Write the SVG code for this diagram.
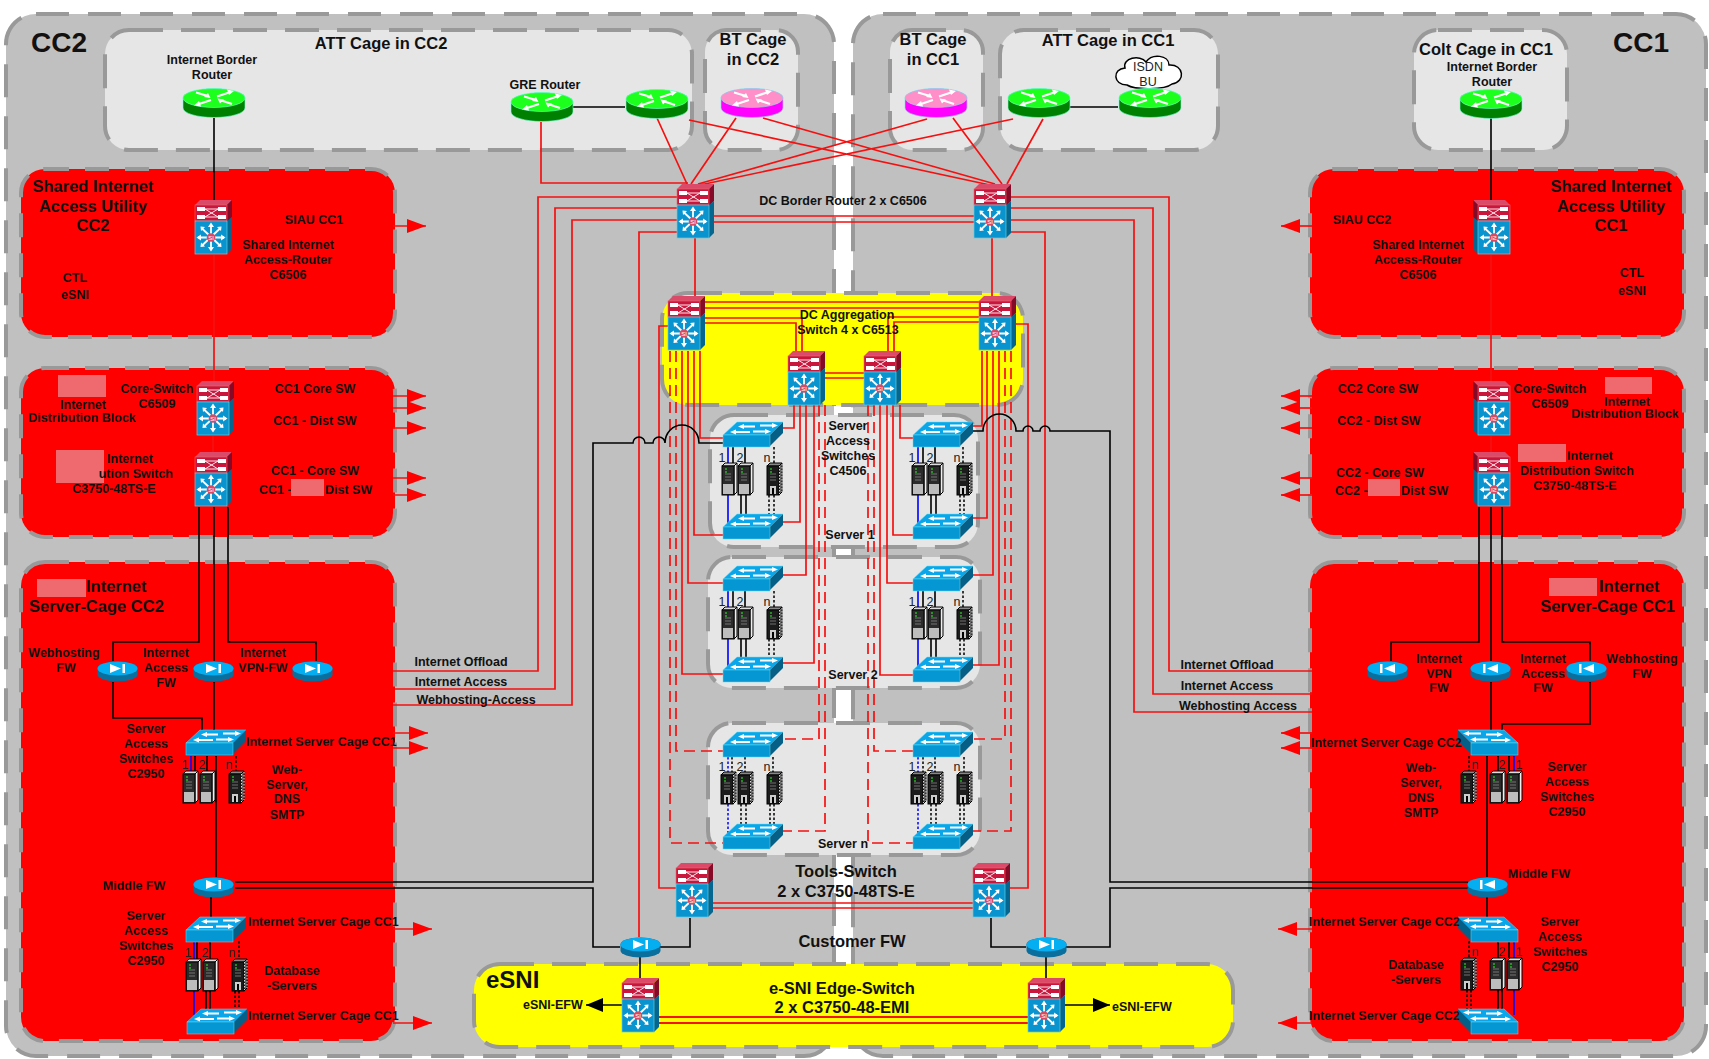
<svg xmlns="http://www.w3.org/2000/svg" width="1709" height="1059" viewBox="0 0 1709 1059">
<style>
text{font-family:"Liberation Sans",Arial,sans-serif;font-weight:700;font-size:12.5px;fill:#111;text-anchor:middle;transform:translateY(1px)}
.st{text-anchor:start}.en{text-anchor:end}
.h{font-size:16.5px;transform:none}.c{font-size:16.5px;transform:none}.big{font-size:28px;text-anchor:start;transform:none}
.reg{font-weight:400;fill:#222;font-size:12.5px}
.pg{fill:#c0c0c0;stroke:#999;stroke-width:4;stroke-dasharray:33 19}
.pl{fill:#e6e6e6;stroke:#999;stroke-width:4;stroke-dasharray:34 18}
.pr{fill:#f00;stroke:#999;stroke-width:4;stroke-dasharray:24 16}
.py{fill:#ff0;stroke:#999;stroke-width:4;stroke-dasharray:34 18}
.mask{fill:#ee6a6e}
path.r{fill:none;stroke:#f51010;stroke-width:1.7}
path.rd{fill:none;stroke:#f51010;stroke-width:1.7;stroke-dasharray:11 6}
path.k{fill:none;stroke:#000;stroke-width:1.6}
path.kd{fill:none;stroke:#000;stroke-width:1.5;stroke-dasharray:2.5 2}
path.b{fill:none;stroke:#00f;stroke-width:1.6}
path.bd{fill:none;stroke:#00f;stroke-width:1.5;stroke-dasharray:2.5 2}
path.a{fill:none;stroke:#f51010;stroke-width:1.7;marker-end:url(#ah)}
.w{fill:#fff}.wl{stroke:#fff;fill:none}
</style>
<defs>
<marker id="ah" markerUnits="userSpaceOnUse" markerWidth="20" markerHeight="14" refX="19" refY="7" orient="auto"><path d="M0,0 19,7 0,14z" fill="#f00"/></marker>
<marker id="akh" markerUnits="userSpaceOnUse" markerWidth="18" markerHeight="14" refX="17" refY="7" orient="auto"><path d="M0,0 17,7 0,14z" fill="#000"/></marker>
<g id="rarrows">
<path class="wl" stroke-width="2.2" d="M35,8.500 47,4.500M29,12 17,16M26,8 14,4.500M38,12 50,16"/>
<path class="w" d="M52,3 45,1.500 47,7zM12,17.500 19,18.500 17,13zM28.500,10 26,5 22,9zM35.500,10.500 38,15.500 42,11.500z"/>
</g>
<g id="rg"><path d="M1,10A31,9.500 0 0 1 63,10V20A31,9.500 0 0 1 1,20Z" fill="#008000" stroke="#7fd" stroke-width=".6"/><ellipse cx="32" cy="10" rx="31" ry="9.500" fill="#1dff1d" stroke="#7fd" stroke-width=".6"/><use href="#rarrows"/></g>
<g id="rm"><path d="M1,10A31,9.500 0 0 1 63,10V20A31,9.500 0 0 1 1,20Z" fill="#f0f" stroke="#8de" stroke-width=".6"/><ellipse cx="32" cy="10" rx="31" ry="9.500" fill="#ff8fc8" stroke="#8de" stroke-width=".6"/><use href="#rarrows"/></g>
<g id="fw"><path d="M.5,7.500A20,7 0 0 1 40.500,7.500V13.500A20,7 0 0 1 .5,13.500Z" fill="#0a6f9c"/><ellipse cx="20.500" cy="7.500" rx="20" ry="7" fill="#05aef0"/><path class="w" d="M13,3 24,7.500 13,12zM25.500,3h2.500v9h-2.500z"/></g>
<g id="sw">
<path d="M0,13 14,0H60L47,13Z" fill="#0ba6ea" stroke="#6de" stroke-width=".5"/>
<path d="M47,13 60,0V11L47,24Z" fill="#055f86"/>
<rect y="13" width="47" height="12" fill="#0596d4" stroke="#6de" stroke-width=".5"/>
<path class="wl" stroke-width="1.8" d="M20,4.500H32M37,3.500H51M12,10H27M30,9.500H44"/>
<path class="w" d="M15,4.500 21,2 21,7zM55,3.500 49,1 49,6zM7,10 13,7.500 13,12.500zM48,9.500 42,7 42,12z"/>
</g>
<g id="l3">
<path d="M0,5 5,0H37L32,5Z" fill="#dc4a6a"/>
<path d="M32,5 37,0V17L32,22Z" fill="#850a28"/>
<rect y="5" width="32" height="16" fill="#c8163c" stroke="#e66" stroke-width=".6"/>
<path class="w" d="M2,7h8v4H2zM23,7h8v4h-8zM2,15h8v4H2zM23,15h8v4h-8z"/>
<path d="M10,9H23M10,17H23M10,9 23,17M10,17 23,9" stroke="#fff" stroke-width=".9" fill="none"/>
<path d="M32,21 37,17V49L32,54Z" fill="#05678f"/>
<rect y="21" width="32" height="33" fill="#0a94cf" stroke="#6cd" stroke-width=".7"/>
<path d="M16,24V50M3,37.500H29M7,28.500 25,45.500M25,28.500 7,45.500" stroke="#fff" stroke-width="1.8" fill="none"/>
<path class="w" d="M16,22.500 13,27H19zM16,51.500 13,47H19zM1.500,37.500 6,34.500V40.500zM30.500,37.500 26,34.500V40.500zM5.500,26.500 6,31 10,27zM26.500,26.500 26,31 22,27zM5.500,47 6,42.500 10,46.500zM26.500,47 26,42.500 22,46.500z"/>
<circle cx="16" cy="37.500" r="4.300" fill="#d84a62"/>
<text x="16" y="39.500" style="font-size:6px;fill:#fff;font-weight:400;transform:none">SI</text>
</g>
<g id="sv">
<path d="M0,3 3,0H15L12,3Z" fill="#ddd" stroke="#000" stroke-width="1"/>
<path d="M12,3 15,0V29L12,32Z" fill="#eee" stroke="#000" stroke-width="1"/>
<rect y="3" width="12" height="29" fill="#2b2b2b" stroke="#000" stroke-width="1"/>
<rect x="1" y="21" width="10" height="10" fill="#bdbdbd"/>
<path d="M3,11h6M3,14h6M3,17h6" stroke="#888" stroke-width=".8"/>
<path d="M3,6h2M3,9h2" stroke="#2f2" stroke-width="1"/>
</g>
<g id="svd">
<path d="M0,3 3,0H15L12,3Z" fill="#888" stroke="#000" stroke-width="1"/>
<path d="M12,3 15,0V29L12,32Z" fill="#666" stroke="#000" stroke-width="1"/>
<rect y="3" width="12" height="29" fill="#1c1c1c" stroke="#000" stroke-width="1"/>
<path d="M12.500,3V31M15,1V29" stroke="#ddd" stroke-width="1" stroke-dasharray="1.500 1.500"/>
<rect x="3" y="23" width="6" height="8" fill="#ccc"/><rect x="5" y="25" width="2" height="6" fill="#000"/>
<path d="M3,11h6M3,14h6M3,17h6" stroke="#888" stroke-width=".8"/>
<path d="M3,6h2M3,9h2" stroke="#2f2" stroke-width="1"/>
</g>
</defs>

<g id="panel-cc2"><rect class="pg" x="6" y="14" width="828" height="1042" rx="30"/></g>
<g id="panel-cc1"><rect class="pg" x="853" y="14" width="853" height="1042" rx="30"/></g>
<g id="panel-att-cc2"><rect class="pl" x="105" y="30" width="587" height="120" rx="24"/></g>
<g id="panel-bt-cc2"><rect class="pl" x="705" y="30" width="93" height="120" rx="22"/></g>
<g id="panel-bt-cc1"><rect class="pl" x="890" y="30" width="93" height="120" rx="22"/></g>
<g id="panel-att-cc1"><rect class="pl" x="1000" y="30" width="218" height="120" rx="24"/></g>
<g id="panel-colt"><rect class="pl" x="1414" y="30" width="153" height="120" rx="24"/></g>
<g id="panel-siau-cc2"><rect class="pr" x="21" y="169" width="374" height="168" rx="24"/></g>
<g id="panel-siau-cc1"><rect class="pr" x="1310" y="169" width="374" height="168" rx="24"/></g>
<g id="panel-dist-cc2"><rect class="pr" x="21" y="368" width="374" height="169" rx="24"/></g>
<g id="panel-dist-cc1"><rect class="pr" x="1310" y="368" width="374" height="169" rx="24"/></g>
<g id="panel-cage-cc2"><rect class="pr" x="21" y="562" width="374" height="479" rx="24"/></g>
<g id="panel-cage-cc1"><rect class="pr" x="1310" y="562" width="374" height="479" rx="24"/></g>
<g id="panel-agg"><rect class="py" x="662" y="293" width="361" height="112" rx="26"/></g>
<g id="panel-server1"><rect class="pl" x="710" y="415" width="268" height="132" rx="24"/></g>
<g id="panel-server2"><rect class="pl" x="708" y="557" width="272" height="131" rx="24"/></g>
<g id="panel-servern"><rect class="pl" x="708" y="723" width="272" height="132" rx="24"/></g>
<g id="panel-esni"><rect class="py" x="474" y="964" width="759" height="83" rx="26"/></g>

<g id="connectors">
<path class="r" d="M541,122V183H688"/>
<path class="r" d="M657,118 687,184M736,118 691,184M927,119 698,184M1013,119 700,185M763,118 995,184M689,120 990,185M953,118 1002,184M1043,119 1007,184"/>
<path class="k" d="M573,107H625M1067,107H1118"/>
<path class="k" d="M214,118V200M1491,118V200"/>
<path class="r" d="M713,216H974M713,222H974"/>
<path class="r" d="M677,197H538V671H393M677,208H555V689H395M677,220H572V705H393M677,232H639V937"/>
<path class="r" d="M1010,197H1169V671H1312M1010,208H1153V694H1312M1010,220H1134V712H1312M1010,232H1045V937"/>
<path class="r" d="M695,238V296M992,238V296"/>
<path class="r" d="M705,302H979M705,308H979M705,318H802V351M705,323H796V351M979,317H888V351M979,322H894V351M825,373H864M825,378H864"/>
<path class="r" d="M668,326H659V888H676M1016,324H1028V888H1010"/>
<path class="r" d="M700,351V438H723M694,351V535H723M688,351V583H723M682,351V674H723"/>
<path class="rd" d="M670,351V843H723M676,351V751H723"/>
<path class="r" d="M794,405V428H783M800,405V522H783M806,405V575H783M814,405V663H783"/>
<path class="rd" d="M819,405V739H783M825,405V831H783"/>
<path class="r" d="M900,405V438H913M893,405V535H913M887,405V583H913M880,405V675H913"/>
<path class="rd" d="M868,405V843H913M874,405V751H913"/>
<path class="r" d="M982,351V426H973M987,351V518H973M993,351V575H973M999,351V665H973"/>
<path class="rd" d="M1005,351V739H973M1011,351V831H973"/>
<path class="k" d="M235,882H593V443H633A6,6 0 0 1 645,443H653A6,6 0 0 1 665,443A17,18 0 0 1 699,443L702,443H723"/>
<path class="k" d="M235,888H593V947H620"/>
<path class="k" d="M973,431H983A16.500,17 0 0 1 1016,431H1023A5,5 0 0 1 1033,431H1040A5,5 0 0 1 1050,431H1110V882H1468"/>
<path class="k" d="M1470,888H1110V947H1066"/>
<path class="k" d="M660,947H690V918M1026,947H991V918M640,957V978M1046,957V978"/>
<path class="r" d="M713,903H973M713,908H973"/>
<path class="r" d="M659,1017H1028M659,1023H1028" style="stroke-width:2;stroke:#f01800"/>
<path class="k" d="M622,1005H586" style="marker-end:url(#akh)"/>
<path class="k" d="M1065,1005H1110" style="marker-end:url(#akh)"/>
<path class="r" d="M214,255V381M213,436V452M1491,255V381M1491,436V452"/>
<path class="k" d="M199,507V642H113V661M214,507V661M228,507V642H316V661"/>
<path class="k" d="M113,682V718H202V730M214,682V737M216,756V877M211,897V917"/>
<path class="k" d="M1479,507V642H1391V661M1491,507V661M1502,507V642H1590V661"/>
<path class="k" d="M1590,682V724H1502V730M1491,682V735M1487,756V877M1487,897V917"/>
<path class="a" d="M393,226H426"/><path class="a" d="M393,396H426"/><path class="a" d="M393,408H426"/><path class="a" d="M393,428H426"/><path class="a" d="M393,478H426"/><path class="a" d="M393,495H426"/><path class="a" d="M393,733H428"/><path class="a" d="M393,748H428"/><path class="a" d="M393,929H432"/><path class="a" d="M393,1023H432"/>
<path class="a" d="M1312,226H1281"/><path class="a" d="M1312,396H1281"/><path class="a" d="M1312,408H1281"/><path class="a" d="M1312,428H1281"/><path class="a" d="M1312,478H1281"/><path class="a" d="M1312,495H1281"/><path class="a" d="M1312,733H1281"/><path class="a" d="M1312,748H1281"/><path class="a" d="M1312,929H1278"/><path class="a" d="M1312,1023H1278"/>
<path class="b" d="M191,756V771M194,941V959M194,990V1015M1514,756V771M1514,941V958M1514,990V1015"/>
<path class="k" d="M195,756V771M207,756V771M197,941V959M210,941V959M206,990V1015M210,990V1015M1498,756V771M1509,756V771M1498,941V958M1509,941V958M1498,990V1015M1502,990V1015"/>
<path class="kd" d="M236,756V771M239,941V959M235,991V1012M239,991V1012M1469,756V771M1469,941V958M1467,990V1012M1471,990V1012"/>
<path class="b" d="M728,447V463M728,495V527M918,447V463M918,495V527M728,591V607M728,639V670M918,591V607M918,639V670"/>
<path class="k" d="M733,447V463M745,447V463M741,495V520M746,495V520M923,447V463M935,447V463M931,495V520M936,495V520M733,591V607M745,591V607M741,639V663M746,639V663M923,591V607M935,591V607M931,639V663M936,639V663"/>
<path class="kd" d="M774,447V463M769,495V518M774,495V518M963,447V463M960,495V518M964,495V518M774,591V607M769,639V660M774,639V660M963,591V607M960,639V660M964,639V660"/>
<path class="bd" d="M728,757V772M728,804V836M918,757V772M918,804V836"/>
<path class="kd" d="M732,757V772M745,757V772M773,757V772M741,804V828M746,804V828M770,804V828M774,804V828M923,757V772M935,757V772M964,757V772M931,804V828M936,804V828M960,804V828M964,804V828"/>
</g>

<g id="cloud-isdn"><path d="M1127,85C1113,85 1112,69 1125,68C1122,58 1140,54 1146,62C1152,53 1169,55 1169,65C1184,64 1186,82 1172,84C1165,90 1135,90 1127,85Z" fill="#fff" stroke="#000" stroke-width="1.5"/><text class="reg" x="1148" y="70">ISDN</text><text class="reg" x="1148" y="85">BU</text></g>

<g id="r-border-cc2"><use href="#rg" x="182" y="88"/><text x="212" y="63">Internet Border</text><text x="212" y="78">Router</text></g>
<g id="r-gre"><use href="#rg" x="510" y="92"/><text x="545" y="88">GRE Router</text></g>
<g id="r-att-cc2"><use href="#rg" x="625" y="89"/></g>
<g id="r-bt-cc2"><use href="#rm" x="720" y="88"/></g>
<g id="r-bt-cc1"><use href="#rm" x="904" y="88"/></g>
<g id="r-att-cc1"><use href="#rg" x="1007" y="88"/></g>
<g id="r-isdn"><use href="#rg" x="1118" y="88"/></g>
<g id="r-colt"><use href="#rg" x="1459" y="89"/><text x="1492" y="70">Internet Border</text><text x="1492" y="85">Router</text></g>

<g id="sw-border-l"><use href="#l3" x="677" y="184"/></g>
<g id="sw-border-r"><use href="#l3" x="974" y="184"/></g>
<g id="sw-agg-1"><use href="#l3" x="668" y="296"/></g>
<g id="sw-agg-2"><use href="#l3" x="788" y="351"/></g>
<g id="sw-agg-3"><use href="#l3" x="864" y="351"/></g>
<g id="sw-agg-4"><use href="#l3" x="979" y="296"/></g>
<g id="sw-siau-cc2"><use href="#l3" x="195" y="200"/></g>
<g id="sw-core-cc2"><use href="#l3" x="197" y="381"/></g>
<g id="sw-dist-cc2"><use href="#l3" x="195" y="452"/></g>
<g id="sw-siau-cc1"><use href="#l3" transform="translate(1510,200) scale(-1,1)"/></g>
<g id="sw-core-cc1"><use href="#l3" transform="translate(1510,381) scale(-1,1)"/></g>
<g id="sw-dist-cc1"><use href="#l3" transform="translate(1510,452) scale(-1,1)"/></g>
<g id="sw-tools-l"><use href="#l3" x="676" y="863"/></g>
<g id="sw-tools-r"><use href="#l3" x="973" y="863"/></g>
<g id="sw-esni-l"><use href="#l3" x="622" y="978"/></g>
<g id="sw-esni-r"><use href="#l3" x="1028" y="978"/></g>

<g id="fw-web-cc2"><use href="#fw" x="97" y="661"/></g>
<g id="fw-acc-cc2"><use href="#fw" x="193" y="661"/></g>
<g id="fw-vpn-cc2"><use href="#fw" x="292" y="661"/></g>
<g id="fw-mid-cc2"><use href="#fw" x="193" y="877"/></g>
<g id="fw-cust-l"><use href="#fw" x="620" y="937"/></g>
<g id="fw-cust-r"><use href="#fw" x="1026" y="937"/></g>
<g id="fw-vpn-cc1"><use href="#fw" transform="translate(1408,661) scale(-1,1)"/></g>
<g id="fw-acc-cc1"><use href="#fw" transform="translate(1511,661) scale(-1,1)"/></g>
<g id="fw-web-cc1"><use href="#fw" transform="translate(1607,661) scale(-1,1)"/></g>
<g id="fw-mid-cc1"><use href="#fw" transform="translate(1508,877) scale(-1,1)"/></g>

<g id="as-s1"><use href="#sw" x="723" y="422"/><use href="#sw" x="723" y="514"/><use href="#sw" x="913" y="422"/><use href="#sw" x="913" y="514"/>
<use href="#sv" x="722" y="463"/><use href="#sv" x="738" y="463"/><use href="#svd" x="767" y="463"/><use href="#sv" x="912" y="463"/><use href="#sv" x="928" y="463"/><use href="#svd" x="957" y="463"/>
<text class="reg" x="722" y="461">1</text><text class="reg" x="740" y="461">2</text><text class="reg" x="767" y="461">n</text><text class="reg" x="912" y="461">1</text><text class="reg" x="930" y="461">2</text><text class="reg" x="957" y="461">n</text></g>
<g id="as-s2"><use href="#sw" x="723" y="566"/><use href="#sw" x="723" y="657"/><use href="#sw" x="913" y="566"/><use href="#sw" x="913" y="657"/>
<use href="#sv" x="722" y="607"/><use href="#sv" x="738" y="607"/><use href="#svd" x="767" y="607"/><use href="#sv" x="912" y="607"/><use href="#sv" x="928" y="607"/><use href="#svd" x="957" y="607"/>
<text class="reg" x="722" y="605">1</text><text class="reg" x="740" y="605">2</text><text class="reg" x="767" y="605">n</text><text class="reg" x="912" y="605">1</text><text class="reg" x="930" y="605">2</text><text class="reg" x="957" y="605">n</text></g>
<g id="as-sn"><use href="#sw" x="723" y="732"/><use href="#sw" x="723" y="824"/><use href="#sw" x="913" y="732"/><use href="#sw" x="913" y="824"/>
<use href="#svd" x="721" y="772"/><use href="#svd" x="738" y="772"/><use href="#svd" x="767" y="772"/><use href="#svd" x="911" y="772"/><use href="#svd" x="928" y="772"/><use href="#svd" x="957" y="772"/>
<text class="reg" x="722" y="770">1</text><text class="reg" x="740" y="770">2</text><text class="reg" x="767" y="770">n</text><text class="reg" x="912" y="770">1</text><text class="reg" x="930" y="770">2</text><text class="reg" x="957" y="770">n</text></g>
<g id="as-web-cc2"><use href="#sw" x="186" y="730"/><use href="#sv" x="183" y="771"/><use href="#sv" x="200" y="771"/><use href="#svd" x="229" y="771"/>
<text class="reg" x="185" y="768">1</text><text class="reg" x="202" y="768">2</text><text class="reg" x="229" y="768">n</text></g>
<g id="as-db-cc2"><use href="#sw" x="186" y="917"/><use href="#sw" x="187" y="1009"/><use href="#sv" x="186" y="959"/><use href="#sv" x="203" y="959"/><use href="#svd" x="232" y="959"/>
<text class="reg" x="188" y="956">1</text><text class="reg" x="205" y="956">2</text><text class="reg" x="232" y="956">n</text></g>
<g id="as-web-cc1"><use href="#sw" transform="translate(1518,730) scale(-1,1)"/><use href="#svd" x="1461" y="771"/><use href="#sv" x="1490" y="771"/><use href="#sv" x="1507" y="771"/>
<text class="reg" x="1475" y="768">n</text><text class="reg" x="1502" y="768">2</text><text class="reg" x="1519" y="768">1</text></g>
<g id="as-db-cc1"><use href="#sw" transform="translate(1518,917) scale(-1,1)"/><use href="#sw" transform="translate(1518,1009) scale(-1,1)"/><use href="#svd" x="1461" y="958"/><use href="#sv" x="1490" y="958"/><use href="#sv" x="1507" y="958"/>
<text class="reg" x="1475" y="955">n</text><text class="reg" x="1502" y="955">2</text><text class="reg" x="1519" y="955">1</text></g>

<g id="labels">
<text class="big" x="31" y="52">CC2</text>
<text class="big" x="1613" y="52">CC1</text>
<text class="h" x="381" y="49">ATT Cage in CC2</text>
<text class="h" x="753" y="45">BT Cage</text><text class="h" x="753" y="65">in CC2</text>
<text class="h" x="933" y="45">BT Cage</text><text class="h" x="933" y="65">in CC1</text>
<text class="h" x="1108" y="46">ATT Cage in CC1</text>
<text class="h" x="1486" y="55">Colt Cage in CC1</text>

<text class="h" x="93" y="192">Shared Internet</text><text class="h" x="93" y="212">Access Utility</text><text class="h" x="93" y="231">CC2</text>
<text x="314" y="223">SIAU CC1</text>
<text x="288" y="248">Shared Internet</text><text x="288" y="263">Access-Router</text><text x="288" y="278">C6506</text>
<text x="75" y="281">CTL</text><text x="75" y="298">eSNI</text>
<text class="h" x="1611" y="192">Shared Internet</text><text class="h" x="1611" y="212">Access Utility</text><text class="h" x="1611" y="231">CC1</text>
<text x="1362" y="223">SIAU CC2</text>
<text x="1418" y="248">Shared Internet</text><text x="1418" y="263">Access-Router</text><text x="1418" y="278">C6506</text>
<text x="1632" y="276">CTL</text><text x="1632" y="294">eSNI</text>

<rect class="mask" x="58" y="375" width="48" height="22"/>
<text x="157" y="392">Core-Switch</text><text x="157" y="407">C6509</text>
<text x="83" y="408">Internet</text><text x="82" y="421">Distribution Block</text>
<text x="315" y="392">CC1 Core SW</text><text x="315" y="424">CC1 - Dist SW</text>
<rect class="mask" x="56" y="450" width="48" height="33"/>
<text x="130" y="462">Internet</text><text class="en" x="173" y="477">ution Switch</text><text x="114" y="492">C3750-48TS-E</text>
<text x="315" y="474">CC1 - Core SW</text>
<text class="st" x="259" y="493">CC1 -</text><rect class="mask" x="291" y="479" width="33" height="17"/><text class="st" x="325" y="493">Dist SW</text>

<rect class="mask" x="1605" y="377" width="47" height="17"/>
<text x="1550" y="392">Core-Switch</text><text x="1550" y="407">C6509</text>
<text x="1627" y="405">Internet</text><text x="1625" y="417">Distribution Block</text>
<text x="1378" y="392">CC2 Core SW</text><text x="1379" y="424">CC2 - Dist SW</text>
<rect class="mask" x="1518" y="444" width="48" height="18"/>
<text x="1590" y="459">Internet</text><text x="1577" y="474">Distribution Switch</text><text x="1575" y="489">C3750-48TS-E</text>
<text x="1380" y="476">CC2 - Core SW</text>
<text class="st" x="1335" y="494">CC2 -</text><rect class="mask" x="1368" y="479" width="32" height="17"/><text class="st" x="1401" y="494">Dist SW</text>

<rect class="mask" x="37" y="579" width="49" height="18"/>
<text class="h st" x="86" y="592">Internet</text><text class="h st" x="29" y="612">Server-Cage CC2</text>
<rect class="mask" x="1549" y="578" width="48" height="18"/>
<text class="h st" x="1599" y="592">Internet</text><text class="h en" x="1675" y="612">Server-Cage CC1</text>

<text x="64" y="656">Webhosting</text><text x="66" y="671">FW</text>
<text x="166" y="656">Internet</text><text x="166" y="671">Access</text><text x="166" y="686">FW</text>
<text x="263" y="656">Internet</text><text x="263" y="671">VPN-FW</text>
<text x="461" y="665">Internet Offload</text><text x="461" y="685">Internet Access</text><text x="476" y="703">Webhosting-Access</text>
<text x="146" y="732">Server</text><text x="146" y="747">Access</text><text x="146" y="762">Switches</text><text x="146" y="777">C2950</text>
<text class="st" x="246" y="745">Internet Server Cage CC1</text>
<text x="287" y="773">Web-</text><text x="287" y="788">Server,</text><text x="287" y="802">DNS</text><text x="287" y="818">SMTP</text>
<text x="134" y="889">Middle FW</text>
<text x="146" y="919">Server</text><text x="146" y="934">Access</text><text x="146" y="949">Switches</text><text x="146" y="964">C2950</text>
<text class="st" x="248" y="925">Internet Server Cage CC1</text>
<text class="st" x="248" y="1019">Internet Server Cage CC1</text>
<text x="292" y="974">Database</text><text x="292" y="989">-Servers</text>

<text x="1439" y="662">Internet</text><text x="1439" y="677">VPN</text><text x="1439" y="691">FW</text>
<text x="1543" y="662">Internet</text><text x="1543" y="677">Access</text><text x="1543" y="691">FW</text>
<text x="1642" y="662">Webhosting</text><text x="1642" y="677">FW</text>
<text x="1227" y="668">Internet Offload</text><text x="1227" y="689">Internet Access</text><text x="1238" y="709">Webhosting Access</text>
<text class="st" x="1311" y="746">Internet Server Cage CC2</text>
<text x="1421" y="771">Web-</text><text x="1421" y="786">Server,</text><text x="1421" y="801">DNS</text><text x="1421" y="816">SMTP</text>
<text x="1567" y="770">Server</text><text x="1567" y="785">Access</text><text x="1567" y="800">Switches</text><text x="1567" y="815">C2950</text>
<text x="1539" y="877">Middle FW</text>
<text class="st" x="1309" y="925">Internet Server Cage CC2</text>
<text class="st" x="1309" y="1019">Internet Server Cage CC2</text>
<text x="1560" y="925">Server</text><text x="1560" y="940">Access</text><text x="1560" y="955">Switches</text><text x="1560" y="970">C2950</text>
<text x="1416" y="968">Database</text><text x="1416" y="983">-Servers</text>

<text x="843" y="204">DC Border Router 2 x C6506</text>
<text x="847" y="318">DC Aggregation</text><text x="848" y="333">Switch 4 x C6513</text>
<text x="848" y="429">Server</text><text x="848" y="444">Access</text><text x="848" y="459">Switches</text><text x="848" y="474">C4506</text>
<text x="850" y="538">Server 1</text><text x="853" y="678">Server 2</text><text x="843" y="847">Server n</text>
<text class="c" x="846" y="877">Tools-Switch</text><text class="c" x="846" y="897">2 x C3750-48TS-E</text>
<text class="c" x="852" y="947">Customer FW</text>
<text class="c" x="842" y="994">e-SNI Edge-Switch</text><text class="c" x="842" y="1013">2 x C3750-48-EMI</text>
<text class="st" style="font-size:24px;transform:none" x="486" y="988">eSNI</text>
<text class="st" x="523" y="1008">eSNI-EFW</text><text class="st" x="1112" y="1010">eSNI-EFW</text>
</g>
</svg>
